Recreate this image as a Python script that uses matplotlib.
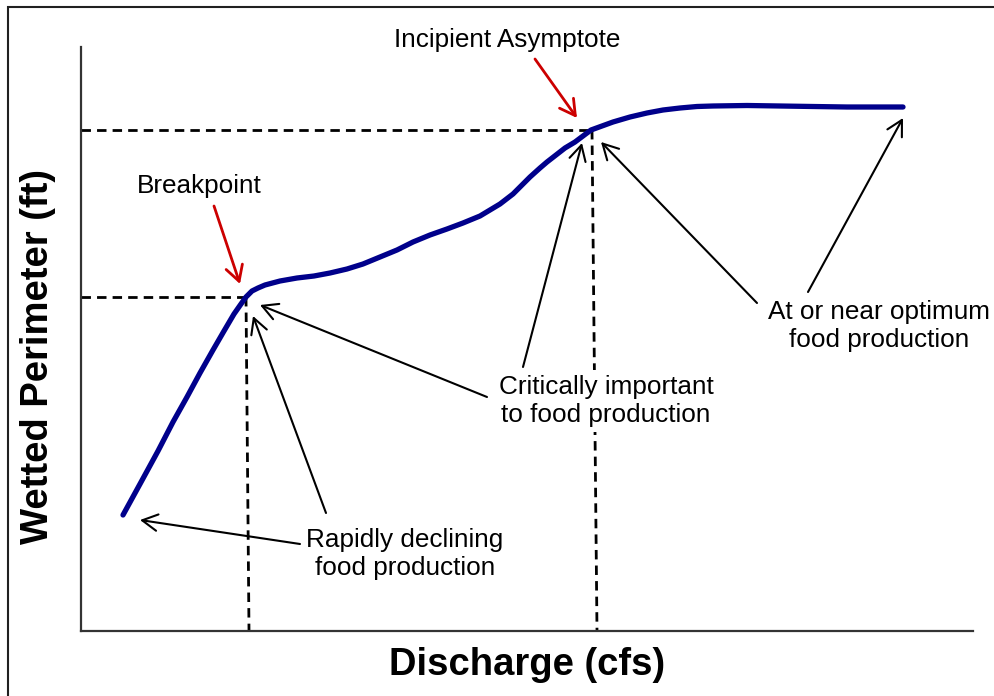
import matplotlib
matplotlib.use("Agg")
import matplotlib.pyplot as plt
from matplotlib.patches import Rectangle

plt.rcParams['font.family'] = ['Liberation Sans', 'DejaVu Sans']

# ---- data (arbitrary units) ----
discharge = [42, 59, 77, 92, 106, 119, 132, 143, 153, 160, 165, 171, 177, 184, 199,
             216, 233, 249, 266, 282, 299, 316, 332, 349, 366, 382, 399, 409, 419,
             432, 441, 449, 459, 466, 475, 484, 494, 502, 510, 521, 532, 549, 566,
             582, 599, 616, 632, 666, 699, 732, 766, 799, 822]
wetted_perimeter = [116, 147, 180, 209, 234, 258, 281, 300, 317, 327, 334, 340, 343,
                    346, 350, 353, 355, 358, 362, 367, 374, 381, 389, 396, 402, 408,
                    415, 421, 427, 437, 446, 454, 463, 469, 476, 483, 489, 495, 501,
                    505, 509, 514, 518, 521, 523, 524.5, 525, 525.5, 525, 524.5, 524,
                    524, 524]

breakpoint_xy = (165, 334)
asymptote_xy = (511, 501)
dashed_bottom_x = [168, 516]

labels = {
    "breakpoint": "Breakpoint",
    "asymptote": "Incipient Asymptote",
    "rapid": "Rapidly declining\nfood production",
    "critical": "Critically important\nto food production",
    "optimum": "At or near optimum\nfood production",
    "xlabel": "Discharge (cfs)",
    "ylabel": "Wetted Perimeter (ft)",
}

W, H = 995, 696
fig = plt.figure(figsize=(W / 100, H / 100), dpi=100)

# outer frame (runs off the right and bottom edges)
fig.patches.append(Rectangle((8 / W, -0.05), 1.1, 1 - 7 / H + 0.05, transform=fig.transFigure,
                             fill=False, edgecolor='#202020', linewidth=1.5))

ax = fig.add_axes([81 / W, (H - 631) / H, (973 - 81) / W, (631 - 47) / H])
ax.set_xlim(0, 892)
ax.set_ylim(0, 584)
ax.set_xticks([])
ax.set_yticks([])
for s in ('top', 'right'):
    ax.spines[s].set_visible(False)
for s in ('left', 'bottom'):
    ax.spines[s].set_color('#333333')
    ax.spines[s].set_linewidth(1.6)
ax.patch.set_alpha(0)

# dashed guide lines
dkw = dict(color='black', linewidth=2.0, dashes=(3.4, 2.2), zorder=2)
ax.plot([0, breakpoint_xy[0]], [breakpoint_xy[1]] * 2, **dkw)
ax.plot([breakpoint_xy[0], dashed_bottom_x[0]], [breakpoint_xy[1], 0], **dkw)
ax.plot([0, asymptote_xy[0]], [asymptote_xy[1]] * 2, **dkw)
ax.plot([asymptote_xy[0], dashed_bottom_x[1]], [asymptote_xy[1], 0], **dkw)

# curve
ax.plot(discharge, wetted_perimeter, color='#00008B', linewidth=3.8,
        solid_capstyle='round', solid_joinstyle='round', zorder=3)

fs = 18.8
black_arrow = dict(arrowstyle='->,head_length=0.5,head_width=0.27', color='black',
                   lw=1.5, mutation_scale=22, shrinkA=0, shrinkB=0)
red_arrow = dict(arrowstyle='->,head_length=0.5,head_width=0.28', color='#CC0000',
                 lw=2.0, mutation_scale=22, shrinkA=0, shrinkB=0)

def P(px, py):
    return (px - 81, 631 - py)

# red labels' arrows
ax.annotate('', xy=P(240, 284), xytext=P(214, 206), arrowprops=red_arrow,
            annotation_clip=False)
ax.annotate('', xy=P(577, 118), xytext=P(535, 59), arrowprops=red_arrow,
            annotation_clip=False)
ax.text(*P(199, 186), labels["breakpoint"], fontsize=fs, ha='center', va='center')
ax.text(*P(507, 40), labels["asymptote"], fontsize=fs, ha='center', va='center',
        clip_on=False)

# black annotation arrows
for tip, tail in [((140, 520), (300, 544)), ((253, 316), (326, 513)),
                  ((260, 305), (487, 397)), ((582, 143), (523, 367)),
                  ((601, 142), (757, 303)), ((903, 118), (808, 292))]:
    ax.annotate('', xy=P(*tip), xytext=P(*tail), arrowprops=black_arrow,
                annotation_clip=False)

box = dict(facecolor='white', edgecolor='none', pad=3)
ax.text(*P(405, 554), labels["rapid"], fontsize=fs, ha='center', va='center',
        linespacing=1.25, zorder=5)
ax.text(*P(606, 401), labels["critical"], fontsize=fs, ha='center', va='center',
        linespacing=1.25, bbox=box, zorder=5)
ax.text(*P(879, 326), labels["optimum"], fontsize=fs, ha='center', va='center',
        linespacing=1.25, clip_on=False, zorder=5)

fig.text(527 / W, 1 - 665 / H, labels["xlabel"], fontsize=27.5, fontweight='bold',
         ha='center', va='center')
fig.text(38 / W, 1 - 357 / H, labels["ylabel"], fontsize=27.5, fontweight='bold',
         ha='center', va='center', rotation=90)

fig.savefig('out.png', dpi=100)
